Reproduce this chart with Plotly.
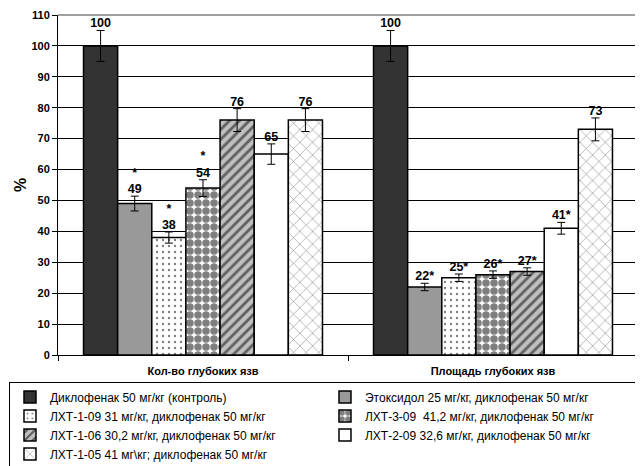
import plotly.graph_objects as go

categories = ["Кол-во глубоких язв", "Площадь глубоких язв"]
series_names = [
    "Диклофенак 50 мг/кг (контроль)",
    "Этоксидол 25 мг/кг, диклофенак 50 мг/кг",
    "ЛХТ-1-09 31 мг/кг, диклофенак 50 мг/кг",
    "ЛХТ-3-09  41,2 мг/кг, диклофенак 50 мг/кг",
    "ЛХТ-1-06 30,2 мг/кг, диклофенак 50 мг/кг",
    "ЛХТ-2-09 32,6 мг/кг, диклофенак 50 мг/кг",
    "ЛХТ-1-05 41 мг\\кг; диклофенак 50 мг/кг",
]
count_values = [100, 49, 38, 54, 76, 65, 76]
area_values = [100, 22, 25, 26, 27, 41, 73]
count_errors = [5, 2.4, 1.8, 2.7, 3.7, 3.3, 3.7]
area_errors = [5, 1.2, 1.2, 1.2, 1.2, 1.9, 3.7]
count_labels = ["100", "*<br>49", "*<br>38", "*<br>54", "76", "65", "76"]
area_labels = ["100", "22*", "25*", "26*", "27*", "41*", "73"]
y_ticks = [0, 10, 20, 30, 40, 50, 60, 70, 80, 90, 100, 110]

styles = [
    dict(color="#333333"),
    dict(color="#999999"),
    dict(color="white", pattern=dict(shape=".", fgcolor="black", bgcolor="white", size=6, solidity=0.12)),
    dict(color="white", pattern=dict(shape=".", fgcolor="black", bgcolor="white", size=8, solidity=0.7)),
    dict(color="#c0c0c0", pattern=dict(shape="/", fgcolor="black", bgcolor="#c0c0c0", size=7, solidity=0.4)),
    dict(color="white"),
    dict(color="white", pattern=dict(shape="x", fgcolor="black", bgcolor="white", size=9, solidity=0.12)),
]

n = len(series_names)
group_width = 0.824
w = group_width / n
cat_idx = list(range(len(categories)))

fig = go.Figure()
FONT = "Liberation Sans, Arial, sans-serif"

for i, name in enumerate(series_names):
    xs = [c + (i - (n - 1) / 2) * w for c in cat_idx]
    vals = [count_values[i], area_values[i]]
    errs = [count_errors[i], area_errors[i]]
    fig.add_trace(go.Bar(
        x=xs, y=vals, width=w, name=name,
        marker=dict(**styles[i], line=dict(color="black", width=1.5)),
        error_y=dict(type="data", array=errs, visible=True, color="black", thickness=1, width=4),
    ))

for i in range(n):
    xs = [c + (i - (n - 1) / 2) * w for c in cat_idx]
    tops = [count_values[i] + count_errors[i], area_values[i] + area_errors[i]]
    fig.add_trace(go.Scatter(
        x=xs, y=tops, mode="text", text=[count_labels[i], area_labels[i]],
        textposition="top center", showlegend=False, hoverinfo="skip",
        textfont=dict(family=FONT, size=12.5, color="black", weight="bold"),
    ))

# plot-area border (top and right, gray)
fig.add_shape(type="line", xref="paper", yref="paper", x0=0, x1=1, y0=1, y1=1,
              line=dict(color="#808080", width=1.5), layer="above")
fig.add_shape(type="line", xref="paper", yref="paper", x0=1, x1=1, y0=0, y1=1,
              line=dict(color="#808080", width=1.5), layer="above")

# page body has an 8px default margin, so the figure is sized to fit the window
fig.update_layout(
    width=635, height=458,
    margin=dict(l=50, r=5, t=7, b=111, autoexpand=False),
    paper_bgcolor="white", plot_bgcolor="white",
    barmode="overlay",
    font=dict(family=FONT, size=11, color="black"),
    xaxis=dict(
        range=[-0.5, len(categories) - 0.5],
        tickvals=cat_idx, ticktext=categories,
        ticks="", showgrid=False, zeroline=False,
        showline=True, linecolor="black", linewidth=1,
        tickfont=dict(family=FONT, size=11, color="black", weight="bold"),
        ticklabelstandoff=6,
        minor=dict(tickvals=[c - 0.5 for c in cat_idx] + [cat_idx[-1] + 0.5],
                   ticks="outside", ticklen=5, tickcolor="black", tickwidth=1, showgrid=False),
    ),
    yaxis=dict(
        range=[0, 110], tickvals=y_ticks,
        ticks="outside", ticklen=5, tickcolor="black",
        showgrid=True, gridcolor="black", gridwidth=1,
        zeroline=False, showline=True, linecolor="black", linewidth=1,
        tickfont=dict(family=FONT, size=11, color="black", weight="bold"),
        title=dict(text="%", font=dict(family=FONT, size=16, color="black", weight="bold"), standoff=0),
    ),
    legend=dict(
        orientation="h", x=-0.0845, xanchor="left", y=-0.078, yanchor="top",
        entrywidth=270, entrywidthmode="pixels",
        bordercolor="black", borderwidth=1, bgcolor="white",
        font=dict(family=FONT, size=12, color="black"),
        traceorder="normal", itemwidth=30,
    ),
    showlegend=True,
)

fig.write_html("out.html")
